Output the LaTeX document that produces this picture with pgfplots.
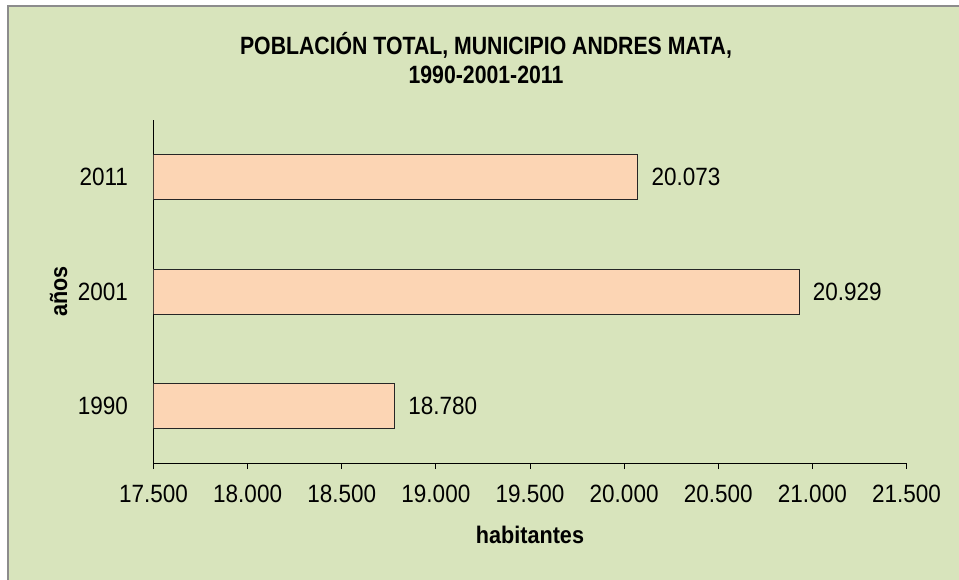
\documentclass[border=0pt]{standalone}
\usepackage{fontspec}
\setmainfont{Liberation Sans}[FakeStretch=0.9]
\newfontfamily\titlefont{Liberation Sans}[FakeStretch=0.85]
\usepackage{pgfplots}
\pgfplotsset{compat=1.18}
\definecolor{bg}{HTML}{D8E4BC}
\definecolor{barfill}{HTML}{FCD5B4}
\definecolor{framegray}{HTML}{8C8C8C}

\begin{document}
\begin{tikzpicture}[x=1pt,y=1pt]
\useasboundingbox (0,0) rectangle (959,579);
\begin{scope}
\clip (0,0) rectangle (959,579);
\fill[white] (0,0) rectangle (959,579);
\fill[bg] (8,-10) rectangle (970,573);
\draw[framegray, line width=2pt] (8,-10) -- (8,573) -- (970,573);
\end{scope}
\node[font=\titlefont\bfseries\fontsize{25}{29}\selectfont, align=center]
  at (486,521) {POBLACIÓN TOTAL, MUNICIPIO ANDRES MATA,\\1990-2001-2011};
\begin{axis}[
  at={(153.5pt,116pt)}, anchor=south west,
  scale only axis, width=753pt, height=343pt,
  xbar, bar width=45pt,
  xmin=17500, xmax=21500, ymin=0.5, ymax=3.5,
  xtick={17500,18000,...,21500},
  scaled x ticks=false,
  ytick={1,2,3}, yticklabels={1990,2001,2011},
  axis x line*=bottom, axis y line*=left,
  axis line style={black, line width=1pt, -},
  tick align=outside, major tick length=6pt,
  x tick style={black, line width=1pt},
  y tick style={draw=none},
  tick label style={font=\fontsize{25}{29}\selectfont},
  xticklabel style={yshift=-13pt},
  yticklabel style={xshift=-16pt},
  xlabel={habitantes}, ylabel={años},
  label style={font=\bfseries\fontsize{24}{28}\selectfont},
  xlabel style={at={(axis description cs:0.5,-0.21)}, anchor=center},
  ylabel style={at={(axis description cs:-0.126,0.5)}, anchor=center},
  point meta=x,
  nodes near coords,
  nodes near coords style={anchor=west, xshift=10pt, font=\fontsize{25}{29}\selectfont, black},
  /pgf/number format/fixed,
  /pgf/number format/precision=0,
  /pgf/number format/1000 sep={.},
  /pgf/number format/assume math mode=true,
]
\addplot[fill=barfill, draw=black!85, line width=1pt] coordinates {(18780,1) (20929,2) (20073,3)};
\end{axis}
\end{tikzpicture}
\end{document}
